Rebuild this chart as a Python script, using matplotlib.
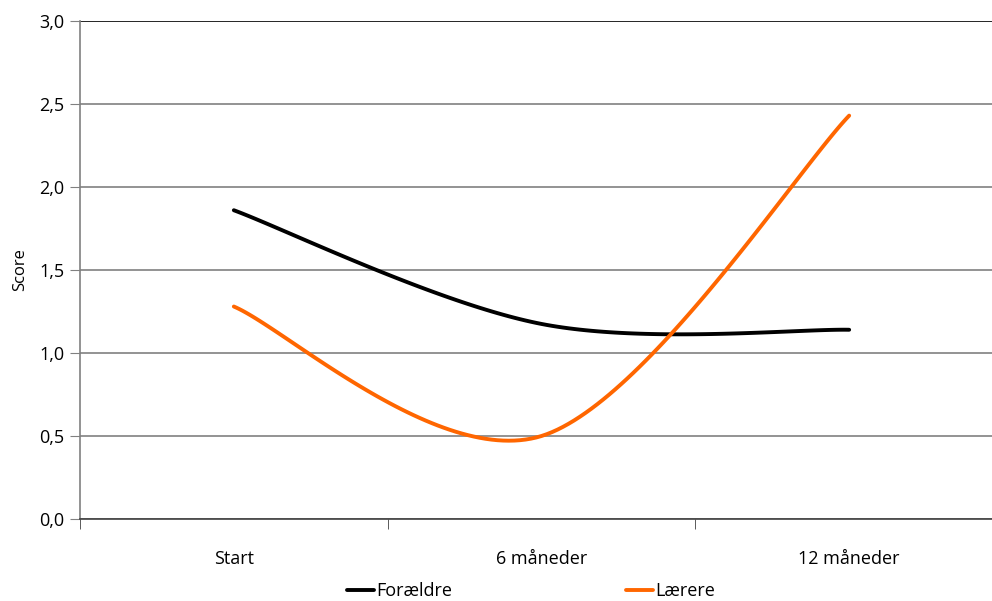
# Score over tid - Forældre vs Lærere (Excel style smoothed lines)

import numpy as np
import matplotlib.pyplot as plt
from matplotlib.ticker import FuncFormatter

# data
categories = ['Start', '6 måneder', '12 måneder']
foraeldre = [1.86, 1.175, 1.14]
laerere = [1.28, 0.50, 2.43]

plt.rcParams['font.family'] = ['Open Sans', 'DejaVu Sans']


def excel_smooth(xs, ys, n=60):
    # bezier through points, control points like Excel's smoothed line
    xs = np.asarray(xs, float)
    ys = np.asarray(ys, float)
    px, py = [], []
    m = len(xs)
    for i in range(m - 1):
        i0 = max(i - 1, 0)
        i3 = min(i + 2, m - 1)
        c1x = xs[i] + (xs[i + 1] - xs[i0]) / 6
        c1y = ys[i] + (ys[i + 1] - ys[i0]) / 6
        c2x = xs[i + 1] - (xs[i3] - xs[i]) / 6
        c2y = ys[i + 1] - (ys[i3] - ys[i]) / 6
        t = np.linspace(0, 1, n)
        a, b, c, d = (1 - t) ** 3, 3 * (1 - t) ** 2 * t, 3 * (1 - t) * t ** 2, t ** 3
        px.append(a * xs[i] + b * c1x + c * c2x + d * xs[i + 1])
        py.append(a * ys[i] + b * c1y + c * c2y + d * ys[i + 1])
    return np.concatenate(px), np.concatenate(py)


fig = plt.figure(figsize=(9.92, 6.01), dpi=100)
ax = fig.add_axes([80 / 992, 82 / 601, 923 / 992, 498 / 601])

x = np.arange(1, len(categories) + 1)
sx, sy = excel_smooth(x, foraeldre)
ax.plot(sx, sy, color='black', lw=2.8, solid_capstyle='round', label='Forældre')
sx, sy = excel_smooth(x, laerere)
ax.plot(sx, sy, color='#FF6600', lw=2.8, solid_capstyle='round', label='Lærere')

ax.set_xlim(0.5, len(categories) + 0.5)
ax.set_ylim(0, 3)
ax.set_yticks(np.arange(0, 3.01, 0.5))
ax.yaxis.set_major_formatter(FuncFormatter(lambda v, p: f'{v:.1f}'.replace('.', ',')))
ax.grid(axis='y', color='#808080', lw=1.2)
ax.set_axisbelow(True)

ax.set_xticks(x)
ax.set_xticklabels(categories)
ax.set_xticks(np.arange(0.5, len(categories) + 1, 1), minor=True)
ax.tick_params(axis='x', which='major', length=0, pad=22, labelsize=13)
ax.tick_params(axis='x', which='minor', length=7, color='#404040', direction='out')
ax.tick_params(axis='y', length=7, color='#808080', labelsize=13, pad=4)

for s in ['top', 'right']:
    ax.spines[s].set_visible(False)
ax.spines['left'].set_color('#808080')
ax.spines['left'].set_linewidth(1.2)
ax.spines['bottom'].set_color('#404040')
ax.spines['bottom'].set_linewidth(1.2)
ax.get_ygridlines()[-1].set_color('black')

ax.set_ylabel('Score', fontsize=12, labelpad=8)

fig.legend(loc='center', bbox_to_anchor=(531 / 992, 10 / 601), ncol=2,
           frameon=False, fontsize=13, handlelength=1.5, handletextpad=0.15,
           columnspacing=9.6, borderaxespad=0)

plt.savefig('out.png', dpi=100)
